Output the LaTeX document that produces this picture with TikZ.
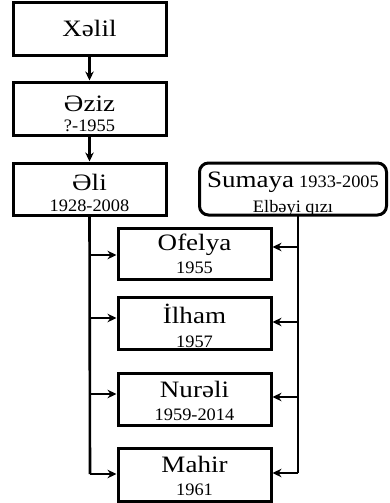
\documentclass[tikz,border=0pt]{standalone}
\usepackage{fontspec}
\setmainfont{Liberation Serif}
\newfontfamily\namefont{Liberation Serif}[FakeStretch=1.15]
\newfontfamily\yearfont{Liberation Serif}[FakeStretch=1.05]
\usetikzlibrary{arrows.meta}
\tikzset{
  box/.style={draw, line width=3pt, rectangle, inner sep=0pt, fill=white},
  nm/.style={anchor=base, inner sep=0pt, font=\namefont\fontsize{23.5}{25}\selectfont},
  yr/.style={anchor=base, inner sep=0pt, font=\yearfont\fontsize{17.5}{19}\selectfont},
  conn/.style={line width=2.6pt},
  arr/.style={line width=2.6pt, -{Stealth[length=9pt,width=8.5pt]}},
}
\begin{document}
\begin{tikzpicture}[x=1pt,y=-1pt]
\useasboundingbox (0,0) rectangle (389,503);
% top boxes
\node[box, minimum width=153pt, minimum height=53pt] (xelil) at (89.5,29.5) {};
\node[box, minimum width=153pt, minimum height=53pt] (eziz) at (89.5,108.5) {};
\node[box, minimum width=153pt, minimum height=52pt] (eli) at (89.5,189) {};
\node[box, rounded corners=9pt, minimum width=187pt, minimum height=52pt] (sumaya) at (293,189) {};
% children
\node[box, minimum width=153pt, minimum height=51pt] (ofelya) at (194.5,253.5) {};
\node[box, minimum width=153pt, minimum height=52pt] (ilham) at (194.5,323) {};
\node[box, minimum width=153pt, minimum height=52pt] (nureli) at (194.5,399) {};
\node[box, minimum width=153pt, minimum height=53pt] (mahir) at (194.5,474.5) {};
% texts
\node[nm] (t1) at (89.5,37) {Xəlil};
\node[nm] (t2) at (89.5,111) {Əziz};
\node[yr] (y2) at (89.5,131) {?-1955};
\node[nm] (t3) at (89.5,190) {Əli};
\node[yr] (y3) at (89.5,211) {1928-2008};
\node[anchor=base, inner sep=0pt] (t4) at (293,187) {{\namefont\fontsize{23.5}{25}\selectfont Sumaya}\hspace{5pt}{\yearfont\fontsize{17.5}{19}\selectfont 1933-2005}};
\node[yr] (y4) at (293,212) {Elbəyi qızı};
\node[nm] (t5) at (194.5,250) {Ofelya};
\node[yr] (y5) at (194.5,273) {1955};
\node[nm] (t6) at (194.5,323) {İlham};
\node[yr] (y6) at (194.5,347) {1957};
\node[nm] (t7) at (194.5,397) {Nurəli};
\node[yr] (y7) at (194.5,420) {1959-2014};
\node[nm] (t8) at (194.5,472) {Mahir};
\node[yr] (y8) at (194.5,495) {1961};
% connectors
\draw[arr] (xelil.south) -- (eziz.north);
\draw[arr] (eziz.south) -- (eli.north);
\coordinate (lb) at (90,474);
\coordinate (rb) at (298,473);
\coordinate (rt) at (298,215);
\draw[conn] (eli.south) -- (lb);
\draw[arr] (lb) -- (lb -| mahir.west);
\draw[arr] (90,255) -- (90,255 -| ofelya.west);
\draw[arr] (90,318) -- (90,318 -| ilham.west);
\draw[arr] (90,394) -- (90,394 -| nureli.west);
\draw[conn] (rt) -- (rb);
\draw[arr] (rb) -- (rb -| mahir.east);
\draw[arr] (298,247) -- (298,247 -| ofelya.east);
\draw[arr] (298,322) -- (298,322 -| ilham.east);
\draw[arr] (298,397) -- (298,397 -| nureli.east);
\end{tikzpicture}
\end{document}
